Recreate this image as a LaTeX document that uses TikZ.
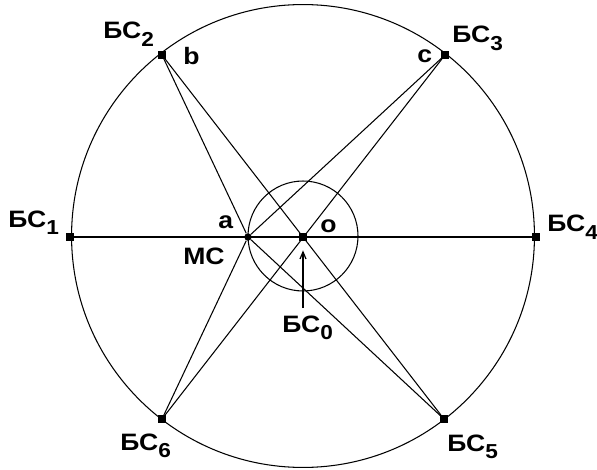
\documentclass[tikz,border=0pt]{standalone}
\usepackage{graphicx}
\usepackage{fontspec}
\setmainfont{Liberation Sans}
\usetikzlibrary{arrows.meta}
\newcommand{\wide}[1]{\scalebox{1.12}[1]{#1}}
\newcommand{\bsname}[1]{\wide{БС\raisebox{-4pt}{\fontsize{11.5}{11.5}\selectfont #1}}}

\tikzset{
  bsnode/.style={rectangle, fill=black, inner sep=0pt, minimum size=4pt},
  msnode/.style={circle, fill=black, inner sep=0pt, minimum size=4.2pt},
  lbl/.style={font=\bfseries\fontsize{13.5}{15}\selectfont, anchor=base west, inner sep=0pt},
  ray/.style={line width=0.6pt}
}

\begin{document}
\begin{tikzpicture}[x=0.02cm, y=-0.02cm, >={Straight Barb[length=4pt, width=3.4pt]}]
\useasboundingbox (0,0) rectangle (597,469);

% circles
\coordinate (c) at (303,236);
\draw[ray] (c) circle[radius=4.63cm];
\draw[ray] (c) circle[radius=1.1cm];

% stations
\node[bsnode] (bs1) at (70,237) {};
\node[bsnode] (bs4) at (536,237) {};
\node[bsnode] (bs2) at (162,55) {};
\node[bsnode] (bs3) at (445,55) {};
\node[bsnode] (bs6) at (162,419) {};
\node[bsnode] (bs5) at (444,419) {};
\node[bsnode, minimum size=4.6pt] (o) at (303,237) {};
\node[msnode] (ms) at (248,237) {};

% connections
\draw[line width=0.8pt] (bs1) -- (bs4);
\draw[ray] (bs2) -- (bs5);
\draw[ray] (bs3) -- (bs6);
\draw[ray] (ms) -- (bs2);
\draw[ray] (ms) -- (bs3);
\draw[ray] (ms) -- (bs5);
\draw[ray] (ms) -- (bs6);

% labels
\node[lbl] (l1) at (8,227) {\bsname{1}};
\node[lbl] (l4) at (547,232) {\bsname{4}};
\node[lbl] (l2) at (103,39) {\bsname{2}};
\node[lbl] (l3) at (452,43) {\bsname{3}};
\node[lbl] (l6) at (120,450) {\bsname{6}};
\node[lbl] (l5) at (447,451) {\bsname{5}};
\node[lbl] (l0) at (282,332) {\bsname{0}};
\node[lbl] (lb) at (183,65) {\wide{b}};
\node[lbl] (lc) at (417,63) {\wide{c}};
\node[lbl] (la) at (218,229) {\wide{a}};
\node[lbl] (lo) at (320,233) {\wide{o}};
\node[lbl] (lms) at (183,264) {\wide{MC}};

\draw[->, line width=0.7pt, shorten <=0.14cm, shorten >=0.18cm] (l0.north -| o) -- (o);

\end{tikzpicture}
\end{document}
